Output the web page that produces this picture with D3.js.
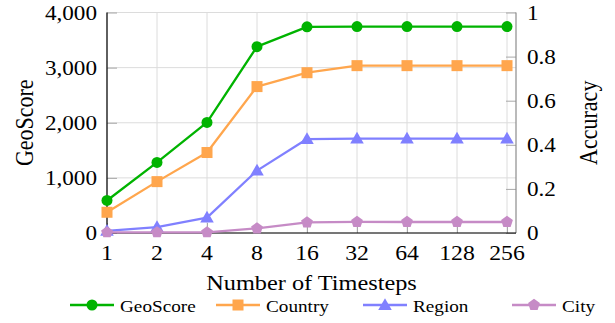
<!DOCTYPE html>
<html>
<head>
<meta charset="utf-8">
<script src="https://cdn.jsdelivr.net/npm/d3@7"></script>
<style>
  html, body { margin: 0; padding: 0; background: #fff; }
  svg { display: block; }
</style>
</head>
<body>
<svg id="chart" width="615" height="323"></svg>
<script>
// ---- data ----
const categories = ["1", "2", "4", "8", "16", "32", "64", "128", "256"];
const geoScore = [590, 1280, 2005, 3380, 3740, 3745, 3745, 3745, 3745];
const country  = [0.094, 0.233, 0.365, 0.664, 0.727, 0.759, 0.759, 0.759, 0.759];
const region   = [0.010, 0.027, 0.070, 0.283, 0.426, 0.428, 0.428, 0.428, 0.428];
const city     = [0.003, 0.003, 0.003, 0.021, 0.048, 0.050, 0.050, 0.050, 0.050];
const leftTicks = [0, 1000, 2000, 3000, 4000];
const rightTicks = [0, 0.2, 0.4, 0.6, 0.8, 1];
const seriesNames = ["GeoScore", "Country", "Region", "City"];

// ---- layout ----
const svg = d3.select("#chart");
const plotL = 107, plotR = 516, plotT = 12.5, plotB = 233;
const SX = 1.13; // horizontal stretch of glyphs
const FONT = "'Liberation Serif', 'DejaVu Serif', serif";

const x = d3.scalePoint().domain(categories).range([107, 507]);
const yL = d3.scaleLinear().domain([0, 4000]).range([plotB, plotT]);
const yR = d3.scaleLinear().domain([0, 1]).range([plotB, plotT]);

const colors = { GeoScore: "#00b300", Country: "#ffa64d", Region: "#8080ff", City: "#c68bc6" };

function stext(g, tx, ty, str, size, anchor, rot) {
  const t = g.append("g").attr("transform", `translate(${tx},${ty}) scale(${SX},1)` + (rot ? ` rotate(${rot})` : ""))
    .append("text").attr("x", 0).attr("y", 0)
    .attr("font-family", FONT).style("font-family", FONT).attr("fill", "#000")
    .attr("font-size", size).attr("text-anchor", anchor).text(str);
  return t;
}

// grid
const grid = svg.append("g");
grid.selectAll("line.v").data(categories).enter().append("line")
  .attr("x1", d => x(d)).attr("x2", d => x(d)).attr("y1", plotT).attr("y2", plotB)
  .attr("stroke", "#dcdcdc").attr("stroke-width", 1);
grid.selectAll("line.h").data(leftTicks).enter().append("line")
  .attr("x1", plotL).attr("x2", plotR).attr("y1", d => yL(d)).attr("y2", d => yL(d))
  .attr("stroke", "#dcdcdc").attr("stroke-width", 1);

// left axis ticks (inward)
const axL = svg.append("g").attr("transform", `translate(${plotL},0)`)
  .call(d3.axisRight(yL).tickValues(leftTicks).tickSize(10).tickFormat(""));
axL.select(".domain").remove();
axL.selectAll(".tick line").attr("stroke", "#a8a8a8");

// right axis ticks (inward)
const axR = svg.append("g").attr("transform", `translate(${plotR},0)`)
  .call(d3.axisLeft(yR).tickValues(rightTicks).tickSize(10).tickFormat(""));
axR.select(".domain").remove();
axR.selectAll(".tick line").attr("stroke", "#a8a8a8");

// bottom ticks (inward)
const axB = svg.append("g").attr("transform", `translate(0,${plotB})`)
  .call(d3.axisTop(x).tickSize(10).tickFormat(""));
axB.select(".domain").remove();
axB.selectAll(".tick line").attr("stroke", "#a8a8a8");

// axis lines
svg.append("line").attr("x1", plotR).attr("x2", plotR).attr("y1", plotT).attr("y2", plotB)
  .attr("stroke", "#8c8c8c").attr("stroke-width", 1.2);
svg.append("line").attr("x1", plotL).attr("x2", plotL).attr("y1", plotT).attr("y2", plotB)
  .attr("stroke", "#000").attr("stroke-width", 1.2);
svg.append("line").attr("x1", plotL).attr("x2", plotR).attr("y1", plotB).attr("y2", plotB)
  .attr("stroke", "#000").attr("stroke-width", 1.2);

// tick labels
const fmt = d3.format(",");
const lab = svg.append("g");
leftTicks.forEach(v => stext(lab, 97, yL(v) + 7, fmt(v), 20.5, "end"));
rightTicks.forEach(v => stext(lab, 527, yR(v) + 7, String(v), 20.5, "start"));
categories.forEach(c => stext(lab, x(c), 260, c, 21, "middle"));

// axis titles
stext(lab, plotL + (plotR - plotL) / 2, 290, "Number of Timesteps", 21.5, "middle");
stext(lab, 33, (plotT + plotB) / 2, "GeoScore", 22, "middle", -90);
stext(lab, 597, (plotT + plotB) / 2, "Accuracy", 22, "middle", -90);

// markers
function marker(g, name, cx, cy) {
  const c = colors[name];
  if (name === "GeoScore") {
    g.append("circle").attr("cx", cx).attr("cy", cy).attr("r", 5.5).attr("fill", c);
  } else if (name === "Country") {
    g.append("rect").attr("x", cx - 5.5).attr("y", cy - 5.5).attr("width", 11).attr("height", 11).attr("fill", c);
  } else if (name === "Region") {
    g.append("path").attr("d", d3.symbol(d3.symbolTriangle, 80)()).attr("transform", `translate(${cx},${cy + 1})`).attr("fill", c);
  } else {
    const r = 6.2, pts = [];
    for (let k = 0; k < 5; k++) {
      const a = -Math.PI / 2 + k * 2 * Math.PI / 5;
      pts.push([cx + r * Math.cos(a), cy + r * Math.sin(a)]);
    }
    g.append("path").attr("d", "M" + pts.map(p => p.join(",")).join("L") + "Z").attr("fill", c);
  }
}

const series = [
  { name: "GeoScore", values: geoScore, y: yL },
  { name: "Country", values: country, y: yR },
  { name: "Region", values: region, y: yR },
  { name: "City", values: city, y: yR }
];

series.forEach(s => {
  const g = svg.append("g");
  const line = d3.line().x((d, i) => x(categories[i])).y(d => s.y(d));
  g.append("path").datum(s.values).attr("d", line)
    .attr("fill", "none").attr("stroke", colors[s.name]).attr("stroke-width", 2.3)
    .attr("stroke-linejoin", "round");
  s.values.forEach((v, i) => marker(g, s.name, x(categories[i]), s.y(v)));
});

// legend
const leg = svg.append("g");
const legStarts = [70, 216, 363, 512];
seriesNames.forEach((n, i) => {
  const x0 = legStarts[i];
  leg.append("line").attr("x1", x0).attr("x2", x0 + 44).attr("y1", 305).attr("y2", 305)
    .attr("stroke", colors[n]).attr("stroke-width", 2.3);
  marker(leg, n, x0 + 22, 305);
  stext(leg, x0 + 50, 312, n, 17, "start");
});
</script>
</body>
</html>
